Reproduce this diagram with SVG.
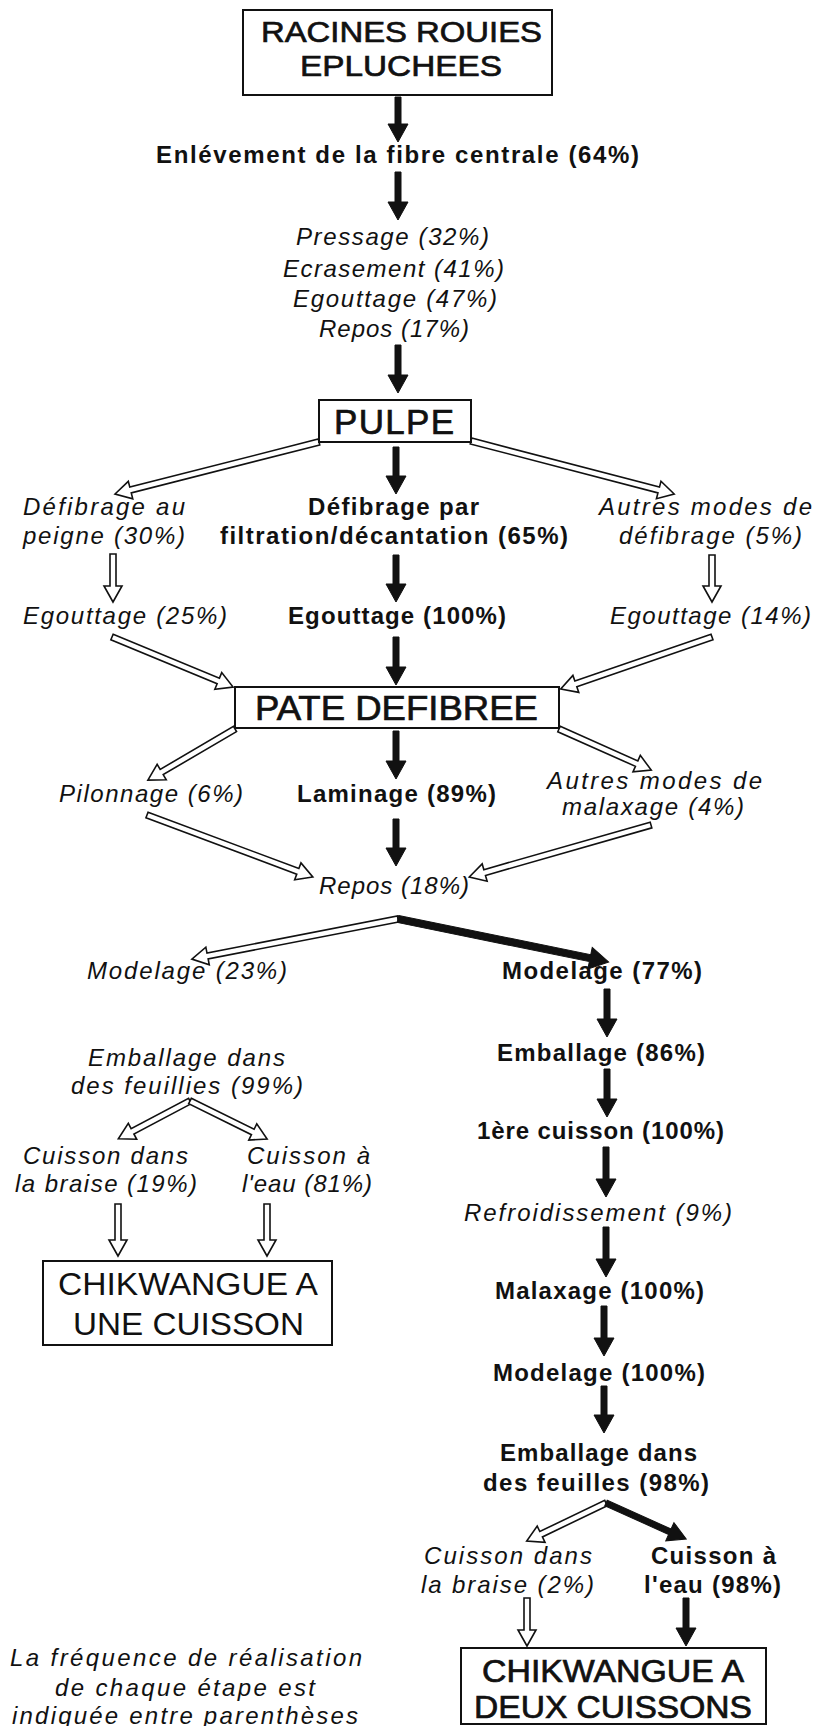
<svg xmlns="http://www.w3.org/2000/svg" width="818" height="1726" viewBox="0 0 818 1726">
<style>
text{font-family:"Liberation Sans",Arial,sans-serif;fill:#111;text-anchor:middle}
.it{font-style:italic;font-size:24px}
.bd{font-weight:bold;font-size:24px}
.big{font-size:35px}
.med{stroke:#111;stroke-width:0.7}
.box{fill:#fff;stroke:#111;stroke-width:2}
.blk{fill:#111;stroke:#111;stroke-width:1;stroke-linejoin:miter}
.hol{fill:#fff;stroke:#111;stroke-width:1.6;stroke-linejoin:miter}
</style>
<rect width="818" height="1726" fill="#fff"/>
<g id="connectors">
<path class="blk" transform="translate(398,97) rotate(90)" d="M0,-3 H27 V-10 L45,0 L27,10 V3 H0 Z"/>
<path class="blk" transform="translate(398,172) rotate(90)" d="M0,-3 H30 V-10 L48,0 L30,10 V3 H0 Z"/>
<path class="blk" transform="translate(398,345) rotate(90)" d="M0,-3 H30 V-10 L48,0 L30,10 V3 H0 Z"/>
<path class="blk" transform="translate(396,447) rotate(90)" d="M0,-3 H29 V-10 L47,0 L29,10 V3 H0 Z"/>
<path class="blk" transform="translate(396,555) rotate(90)" d="M0,-3 H29 V-10 L47,0 L29,10 V3 H0 Z"/>
<path class="blk" transform="translate(396,637) rotate(90)" d="M0,-3 H30 V-10 L48,0 L30,10 V3 H0 Z"/>
<path class="blk" transform="translate(396,731) rotate(90)" d="M0,-3 H30 V-10 L48,0 L30,10 V3 H0 Z"/>
<path class="blk" transform="translate(396,819) rotate(90)" d="M0,-3 H29 V-10 L47,0 L29,10 V3 H0 Z"/>
<path class="hol" transform="translate(319,442) rotate(165.7)" d="M0,-3 H194.5 V-9 L210.5,0 L194.5,9 V3 H0 Z"/>
<path class="hol" transform="translate(471,441) rotate(14.63)" d="M0,-3 H194 V-9 L210,0 L194,9 V3 H0 Z"/>
<path class="hol" transform="translate(113,554) rotate(90)" d="M0,-3 H32 V-9 L48,0 L32,9 V3 H0 Z"/>
<path class="hol" transform="translate(712,555) rotate(90)" d="M0,-3 H31 V-9 L47,0 L31,9 V3 H0 Z"/>
<path class="hol" transform="translate(112,637) rotate(22.45)" d="M0,-3 H115 V-9 L131,0 L115,9 V3 H0 Z"/>
<path class="hol" transform="translate(712,637) rotate(161)" d="M0,-3 H144 V-9 L160,0 L144,9 V3 H0 Z"/>
<path class="hol" transform="translate(235,729) rotate(149.6)" d="M0,-3 H85 V-9 L101,0 L85,9 V3 H0 Z"/>
<path class="hol" transform="translate(559,729) rotate(24.02)" d="M0,-3 H85 V-9 L101,0 L85,9 V3 H0 Z"/>
<path class="hol" transform="translate(147,815) rotate(20.48)" d="M0,-3 H161 V-9 L177,0 L161,9 V3 H0 Z"/>
<path class="hol" transform="translate(651,825) rotate(164.05)" d="M0,-3 H173 V-9 L189,0 L173,9 V3 H0 Z"/>
<path class="hol" transform="translate(398,919) rotate(169)" d="M0,-3 H194 V-9 L210,0 L194,9 V3 H0 Z"/>
<path class="blk" transform="translate(398,919) rotate(11.52)" d="M0,-3.5 H196 V-11 L215,0 L196,11 V3.5 H0 Z"/>
<path class="blk" transform="translate(607,989) rotate(90)" d="M0,-3 H30 V-10 L48,0 L30,10 V3 H0 Z"/>
<path class="blk" transform="translate(607,1069) rotate(90)" d="M0,-3 H30 V-10 L48,0 L30,10 V3 H0 Z"/>
<path class="blk" transform="translate(606,1147) rotate(90)" d="M0,-3 H32 V-10 L50,0 L32,10 V3 H0 Z"/>
<path class="blk" transform="translate(606,1227) rotate(90)" d="M0,-3 H32 V-10 L50,0 L32,10 V3 H0 Z"/>
<path class="blk" transform="translate(604,1306) rotate(90)" d="M0,-3 H32 V-10 L50,0 L32,10 V3 H0 Z"/>
<path class="blk" transform="translate(604,1386) rotate(90)" d="M0,-3 H29 V-10 L47,0 L29,10 V3 H0 Z"/>
<path class="hol" transform="translate(190,1101) rotate(152.2)" d="M0,-3 H65 V-9 L81,0 L65,9 V3 H0 Z"/>
<path class="hol" transform="translate(190,1101) rotate(26.27)" d="M0,-3 H70 V-9 L86,0 L70,9 V3 H0 Z"/>
<path class="hol" transform="translate(118,1204) rotate(90)" d="M0,-3 H36 V-9 L52,0 L36,9 V3 H0 Z"/>
<path class="hol" transform="translate(267,1204) rotate(90)" d="M0,-3 H36 V-9 L52,0 L36,9 V3 H0 Z"/>
<path class="hol" transform="translate(606,1503) rotate(154.3)" d="M0,-3 H72 V-9 L88,0 L72,9 V3 H0 Z"/>
<path class="blk" transform="translate(606,1503) rotate(24.23)" d="M0,-3 H70 V-10 L88,0 L70,10 V3 H0 Z"/>
<path class="hol" transform="translate(527,1598) rotate(90)" d="M0,-3 H32 V-9 L48,0 L32,9 V3 H0 Z"/>
<path class="blk" transform="translate(686,1598) rotate(90)" d="M0,-3 H30 V-10 L48,0 L30,10 V3 H0 Z"/>
</g>
<g id="n-racines">
<rect class="box" x="243" y="10" width="309" height="85"/>
<text class="med" x="401.5" y="42" font-size="30" textLength="281" lengthAdjust="spacingAndGlyphs">RACINES ROUIES</text>
<text class="med" x="401" y="76" font-size="30" textLength="202" lengthAdjust="spacingAndGlyphs">EPLUCHEES</text>
</g>
<g id="n-enlevement"><text class="bd" x="397.5" y="163" textLength="483" lengthAdjust="spacing">Enlévement de la fibre centrale (64%)</text></g>
<g id="n-pressage">
<text class="it" x="392.5" y="245" textLength="193" lengthAdjust="spacing">Pressage (32%)</text>
<text class="it" x="393.5" y="277" textLength="221" lengthAdjust="spacing">Ecrasement (41%)</text>
<text class="it" x="395" y="307" textLength="204" lengthAdjust="spacing">Egouttage (47%)</text>
<text class="it" x="394" y="337" textLength="150" lengthAdjust="spacing">Repos (17%)</text>
</g>
<g id="n-pulpe">
<rect class="box" x="319" y="400" width="152" height="42"/>
<text class="big med" x="394" y="434" textLength="120" lengthAdjust="spacing">PULPE</text>
</g>
<g id="n-defib-peigne">
<text class="it" x="104" y="515" textLength="162" lengthAdjust="spacing">Défibrage au</text>
<text class="it" x="104" y="544" textLength="162" lengthAdjust="spacing">peigne (30%)</text>
</g>
<g id="n-defib-filtration">
<text class="bd" x="393.5" y="515" textLength="171" lengthAdjust="spacing">Défibrage par</text>
<text class="bd" x="394" y="544" textLength="348" lengthAdjust="spacing">filtration/décantation (65%)</text>
</g>
<g id="n-defib-autres">
<text class="it" x="705.5" y="515" textLength="213" lengthAdjust="spacing">Autres modes de</text>
<text class="it" x="710.5" y="544" textLength="183" lengthAdjust="spacing">défibrage (5%)</text>
</g>
<g id="n-egout-25"><text class="it" x="125" y="624" textLength="204" lengthAdjust="spacing">Egouttage (25%)</text></g>
<g id="n-egout-100"><text class="bd" x="397" y="624" textLength="218" lengthAdjust="spacing">Egouttage (100%)</text></g>
<g id="n-egout-14"><text class="it" x="710.5" y="624" textLength="201" lengthAdjust="spacing">Egouttage (14%)</text></g>
<g id="n-pate">
<rect class="box" x="235" y="687" width="324" height="41"/>
<text class="big med" x="396.5" y="720" textLength="283" lengthAdjust="spacingAndGlyphs">PATE DEFIBREE</text>
</g>
<g id="n-pilonnage"><text class="it" x="151" y="802" textLength="184" lengthAdjust="spacing">Pilonnage (6%)</text></g>
<g id="n-laminage"><text class="bd" x="396.5" y="802" textLength="199" lengthAdjust="spacing">Laminage (89%)</text></g>
<g id="n-malax-autres">
<text class="it" x="654.5" y="789" textLength="215" lengthAdjust="spacing">Autres modes de</text>
<text class="it" x="653" y="815" textLength="182" lengthAdjust="spacing">malaxage (4%)</text>
</g>
<g id="n-repos"><text class="it" x="394" y="894" textLength="150" lengthAdjust="spacing">Repos (18%)</text></g>
<g id="n-modelage-23"><text class="it" x="187" y="979" textLength="200" lengthAdjust="spacing">Modelage (23%)</text></g>
<g id="n-modelage-77"><text class="bd" x="602" y="979" textLength="200" lengthAdjust="spacing">Modelage (77%)</text></g>
<g id="n-emballage-99">
<text class="it" x="186.5" y="1066" textLength="197" lengthAdjust="spacing">Emballage dans</text>
<text class="it" x="187" y="1094" textLength="232" lengthAdjust="spacing">des feuillies (99%)</text>
</g>
<g id="n-emballage-86"><text class="bd" x="601" y="1061" textLength="208" lengthAdjust="spacing">Emballage (86%)</text></g>
<g id="n-cuisson1"><text class="bd" x="600.5" y="1139" textLength="247" lengthAdjust="spacing">1ère cuisson (100%)</text></g>
<g id="n-braise-19">
<text class="it" x="105.5" y="1164" textLength="165" lengthAdjust="spacing">Cuisson dans</text>
<text class="it" x="106" y="1192" textLength="182" lengthAdjust="spacing">la braise (19%)</text>
</g>
<g id="n-eau-81">
<text class="it" x="308.5" y="1164" textLength="123" lengthAdjust="spacing">Cuisson à</text>
<text class="it" x="307" y="1192" textLength="130" lengthAdjust="spacing">l'eau (81%)</text>
</g>
<g id="n-refroid"><text class="it" x="598" y="1221" textLength="268" lengthAdjust="spacing">Refroidissement (9%)</text></g>
<g id="n-chik-une">
<rect class="box" x="43" y="1261" width="289" height="84"/>
<text x="188" y="1295" font-size="32" textLength="260" lengthAdjust="spacingAndGlyphs">CHIKWANGUE A</text>
<text x="188.5" y="1335" font-size="32" textLength="231" lengthAdjust="spacingAndGlyphs">UNE CUISSON</text>
</g>
<g id="n-malaxage"><text class="bd" x="599.5" y="1299" textLength="209" lengthAdjust="spacing">Malaxage (100%)</text></g>
<g id="n-modelage-100"><text class="bd" x="599" y="1381" textLength="212" lengthAdjust="spacing">Modelage (100%)</text></g>
<g id="n-emballage-98">
<text class="bd" x="598.5" y="1461" textLength="197" lengthAdjust="spacing">Emballage dans</text>
<text class="bd" x="596" y="1491" textLength="226" lengthAdjust="spacing">des feuilles (98%)</text>
</g>
<g id="n-braise-2">
<text class="it" x="508" y="1564" textLength="168" lengthAdjust="spacing">Cuisson dans</text>
<text class="it" x="507.5" y="1593" textLength="173" lengthAdjust="spacing">la braise (2%)</text>
</g>
<g id="n-eau-98">
<text class="bd" x="713.5" y="1564" textLength="125" lengthAdjust="spacing">Cuisson à</text>
<text class="bd" x="712.5" y="1593" textLength="137" lengthAdjust="spacing">l'eau (98%)</text>
</g>
<g id="n-chik-deux">
<rect class="box" x="461" y="1648" width="305" height="76"/>
<text class="med" x="613" y="1682" font-size="31" textLength="262" lengthAdjust="spacingAndGlyphs">CHIKWANGUE A</text>
<text class="med" x="613" y="1718" font-size="31" textLength="278" lengthAdjust="spacingAndGlyphs">DEUX CUISSONS</text>
</g>
<g id="n-note">
<text class="it" x="186" y="1666" font-size="22" textLength="352" lengthAdjust="spacing">La fréquence de réalisation</text>
<text class="it" x="185" y="1696" font-size="22" textLength="260" lengthAdjust="spacing">de chaque étape est</text>
<text class="it" x="185" y="1724" font-size="22" textLength="346" lengthAdjust="spacing">indiquée entre parenthèses</text>
</g>
</svg>
